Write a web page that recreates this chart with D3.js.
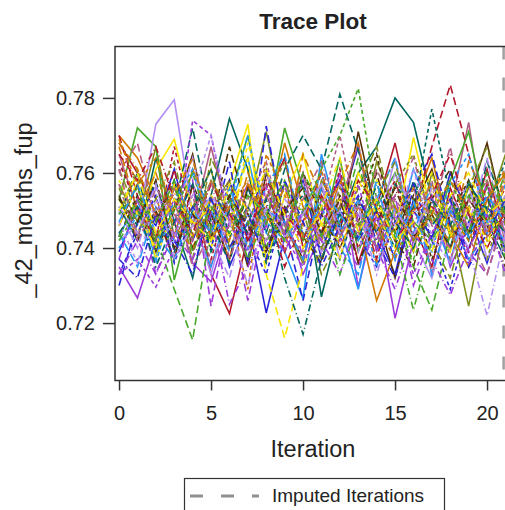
<!DOCTYPE html>
<html>
<head>
<meta charset="utf-8">
<script src="https://cdn.jsdelivr.net/npm/d3@7"></script>
<style>
	body { margin: 0; background: #fff; overflow: hidden; }
	text { font-family: "Liberation Sans", Arial, sans-serif; fill: #222; }
</style>
</head>
<body>
<script>
// iteration numbers on the x axis
var iterations = [0,1,2,3,4,5,6,7,8,9,10,11,12,13,14,15,16,17,18,19,20,21];
var xTicks = [0,5,10,15,20];
var yTicks = [0.72,0.74,0.76,0.78];
var imputedIters = [20.9];

// chains 1-12 (solid)
var chainsA = [
	[.739,.751,.746,.761,.742,.754,.735,.747,.7227,.743,.758,.737,.750,.767,.744,.733,.753,.742,.760,.749,.736,.751],
	[.768,.760,.749,.737,.757,.733,.7225,.743,.753,.764,.740,.749,.758,.736,.751,.768,.746,.735,.756,.744,.761,.742],
	[.751,.742,.764,.747,.732,.754,.7745,.761,.737,.750,.757,.727,.747,.760,.767,.780,.7735,.753,.740,.758,.747,.737],
	[.746,.757,.739,.750,.765,.742,.753,.735,.760,.747,.737,.756,.744,.771,.749,.732,.751,.761,.743,.753,.768,.747],
	[.735,.7267,.742,.753,.736,.731,.747,.757,.740,.750,.733,.744,.760,.7296,.749,.7213,.742,.754,.735,.746,.757,.739],
	[.757,.747,.767,.743,.751,.761,.740,.750,.771,.746,.736,.758,.749,.742,.763,.751,.739,.760,.747,.7245,.750,.765],
	[.743,.753,.737,.758,.747,.735,.751,.764,.744,.739,.7265,.765,.746,.729,.753,.742,.761,.749,.736,.757,.744,.753],
	[.765,.750,.740,.756,.746,.767,.747,.737,.754,.744,.760,.742,.751,.768,.739,.749,.757,.733,.750,.7735,.743,.749],
	[.770,.764,.753,.743,.761,.749,.737,.757,.746,.768,.751,.742,.758,.747,.726,.739,.751,.764,.744,.735,.753,.760],
	[.753,.772,.767,.7315,.750,.742,.753,.770,.746,.772,.756,.743,.764,.739,.751,.760,.747,.742,.758,.771,.749,.740],
	[.742,.746,.773,.7795,.749,.733,.751,.743,.761,.739,.749,.757,.737,.753,.744,.764,.742,.732,.750,.757,.737,.747],
	[.753,.743,.761,.769,.750,.740,.757,.773,.736,.754,.765,.746,.742,.760,.751,.744,.7695,.749,.739,.757,.746,.754]
];
// chains 13-24 (long dash)
var chainsB = [
	[.730,.747,.757,.740,.751,.744,.763,.736,.7725,.746,.726,.749,.758,.742,.750,.737,.756,.765,.746,.740,.751,.744],
	[.770,.754,.743,.761,.739,.750,.758,.742,.751,.735,.747,.760,.744,.753,.737,.757,.749,.767,.7835,.765,.747,.756],
	[.749,.760,.740,.751,.772,.747,.736,.756,.744,.761,.770,.761,.781,.766,.750,.740,.758,.746,.753,.742,.763,.750],
	[.754,.742,.750,.737,.757,.746,.767,.749,.740,.751,.743,.736,.754,.747,.760,.742,.735,.753,.761,.744,.754,.737],
	[.737,.753,.733,.746,.758,.7245,.750,.726,.749,.757,.737,.753,.743,.735,.747,.754,.730,.744,.751,.739,.733,.749],
	[.761,.749,.742,.757,.737,.764,.753,.746,.761,.742,.750,.733,.743,.756,.767,.747,.753,.742,.732,.751,.758,.743],
	[.744,.735,.751,.742,.760,.750,.739,.747,.756,.765,.743,.751,.740,.733,.753,.764,.744,.757,.749,.737,.744,.757],
	[.760,.768,.747,.753,.735,.744,.757,.751,.742,.749,.760,.739,.753,.744,.761,.750,.742,.749,.767,.743,.733,.750],
	[.767,.750,.760,.746,.740,.753,.742,.760,.749,.739,.765,.754,.744,.751,.736,.746,.756,.747,.742,.763,.753,.743],
	[.742,.750,.743,.729,.7155,.746,.754,.737,.749,.758,.742,.753,.746,.764,.740,.751,.735,.7235,.744,.754,.747,.760],
	[.750,.740,.756,.747,.764,.743,.732,.751,.742,.753,.747,.739,.757,.749,.742,.760,.750,.740,.754,.746,.764,.742],
	[.746,.758,.737,.751,.743,.754,.747,.764,.733,.716,.735,.747,.753,.742,.758,.749,.739,.756,.744,.750,.740,.758]
];
// chains 25-36 (short dash)
var chainsC = [
	[.733,.744,.754,.736,.749,.740,.758,.743,.733,.751,.744,.740,.750,.743,.735,.747,.757,.742,.729,.747,.754,.739],
	[.763,.751,.742,.767,.747,.737,.754,.744,.757,.739,.750,.744,.761,.740,.749,.758,.742,.751,.746,.739,.757,.747],
	[.753,.746,.758,.739,.750,.761,.743,.751,.736,.749,.754,.744,.737,.753,.744,.757,.750,.777,.754,.743,.751,.763],
	[.743,.754,.747,.758,.740,.749,.737,.756,.750,.742,.760,.749,.740,.751,.765,.744,.754,.737,.749,.758,.742,.750],
	[.733,.737,.7296,.740,.774,.770,.747,.739,.756,.743,.735,.750,.742,.757,.739,.749,.733,.744,.753,.736,.746,.742],
	[.750,.761,.743,.751,.746,.758,.749,.740,.753,.763,.744,.737,.756,.747,.740,.757,.765,.747,.753,.744,.737,.754],
	[.740,.749,.736,.753,.761,.743,.751,.770,.747,.742,.750,.760,.744,.753,.735,.751,.743,.739,.757,.765,.747,.742],
	[.757,.742,.751,.744,.754,.736,.746,.753,.763,.744,.739,.751,.770,.747,.740,.753,.746,.758,.737,.750,.758,.744],
	[.769,.757,.764,.749,.743,.758,.750,.729,.765,.754,.746,.761,.740,.751,.746,.737,.750,.757,.749,.742,.753,.761],
	[.749,.756,.742,.750,.760,.744,.753,.747,.740,.757,.749,.761,.770,.7825,.753,.744,.737,.750,.758,.747,.756,.737],
	[.747,.736,.753,.743,.754,.770,.749,.740,.751,.746,.757,.742,.750,.739,.754,.746,.761,.743,.736,.753,.746,.754],
	[.758,.749,.740,.757,.746,.751,.743,.768,.750,.742,.753,.747,.737,.758,.749,.740,.750,.760,.743,.751,.742,.750]
];
// chains 37-48 (dash dot)
var chainsD = [
	[.737,.732,.749,.742,.733,.753,.740,.749,.737,.758,.747,.735,.746,.754,.742,.732,.750,.743,.753,.735,.744,.753],
	[.765,.758,.767,.753,.744,.757,.749,.742,.758,.750,.742,.754,.746,.758,.751,.742,.749,.754,.765,.749,.740,.750],
	[.744,.751,.735,.747,.757,.739,.750,.744,.753,.732,.717,.737,.749,.742,.757,.747,.740,.753,.746,.757,.750,.744],
	[.753,.747,.758,.740,.749,.743,.754,.746,.739,.750,.756,.744,.753,.736,.747,.756,.743,.749,.740,.753,.746,.735],
	[.733,.742,.733,.744,.737,.749,.725,.735,.746,.739,.750,.742,.733,.749,.740,.729,.744,.737,.7275,.740,.749,.733],
	[.756,.744,.753,.763,.743,.750,.758,.747,.742,.757,.750,.740,.751,.746,.754,.763,.742,.750,.744,.756,.767,.746],
	[.747,.757,.744,.737,.750,.744,.756,.740,.750,.747,.737,.756,.749,.742,.758,.737,.753,.733,.750,.743,.754,.747],
	[.761,.743,.756,.749,.742,.758,.737,.751,.757,.746,.753,.763,.743,.751,.742,.754,.764,.746,.740,.753,.744,.758],
	[.768,.761,.749,.754,.764,.742,.751,.758,.747,.756,.743,.750,.757,.768,.744,.751,.742,.749,.758,.750,.743,.760],
	[.743,.753,.747,.758,.739,.751,.744,.754,.749,.742,.760,.751,.733,.746,.753,.743,.7235,.742,.751,.744,.760,.749],
	[.751,.744,.757,.737,.746,.754,.747,.730,.751,.743,.749,.757,.744,.751,.733,.750,.743,.756,.749,.740,.722,.744],
	[.750,.760,.744,.753,.747,.742,.757,.750,.761,.749,.740,.751,.764,.744,.753,.742,.747,.739,.754,.760,.749,.753]
];

var palette = ['#2A25D9','#B2182B','#01665E','#543005','#9D3CDB','#7F8E1F',
				'#2597FA','#B26084','#D17800','#47A82A','#B38EF3','#F9E600'];
var dashes = ['none','8,4','4,3','7,3,1,3'];

var width = 505, height = 510;
var plotL = 115, plotT = 46.5, plotB = 380.5, plotR = 560;

var canvas = d3.select('body')
				.append('svg')
				.attr('width',width)
				.attr('height',height);

var x = d3.scaleLinear()
			.domain([-0.22, 24])
			.range([plotL, plotL + 24.22*18.4]);

var y = d3.scaleLinear()
			.domain([0.7047, 0.7937])
			.range([plotB, plotT]);

canvas.append('defs')
	.append('clipPath')
	.attr('id','plotClip')
	.append('rect')
	.attr('x',plotL)
	.attr('y',plotT)
	.attr('width',plotR-plotL)
	.attr('height',plotB-plotT);

var lines = canvas.append('g').attr('clip-path','url(#plotClip)');

// imputed iteration reference line (under the chains)
lines.selectAll('line.ref')
	.data(imputedIters)
	.enter()
	.append('line')
	.attr('class','ref')
	.attr('x1',(d)=>x(d))
	.attr('x2',(d)=>x(d))
	.attr('y1',plotT)
	.attr('y2',plotB)
	.attr('stroke','#a0a0a0')
	.attr('stroke-width',2.5)
	.attr('stroke-dasharray','13,18');

var line = d3.line()
			.x((d,i)=>x(iterations[i]))
			.y((d)=>y(d));

var blocks = [chainsA, chainsB, chainsC, chainsD];

blocks.forEach(function(block,b){
	lines.selectAll('path.b'+b)
		.data(block)
		.enter()
		.append('path')
		.attr('class','b'+b)
		.attr('fill','none')
		.attr('stroke',(d,i)=>palette[i])
		.attr('stroke-width',1.6)
		.attr('stroke-dasharray',dashes[b])
		.attr('d',line);
});

// frame
canvas.append('rect')
	.attr('x',plotL)
	.attr('y',plotT)
	.attr('width',plotR-plotL)
	.attr('height',plotB-plotT)
	.attr('fill','none')
	.attr('stroke','#333')
	.attr('stroke-width',1.5);

var xAxis = canvas.append('g')
				.attr('transform','translate(0,'+plotB+')')
				.call(d3.axisBottom(x).tickValues(xTicks).tickSize(10).tickPadding(15));

var yAxis = canvas.append('g')
				.attr('transform','translate('+plotL+',0)')
				.call(d3.axisLeft(y).tickValues(yTicks).tickFormat(d3.format('.2f')).tickSize(12).tickPadding(8));

[xAxis,yAxis].forEach(function(ax){
	ax.select('.domain').remove();
	ax.selectAll('line').attr('stroke','#333').attr('stroke-width',1.5);
	ax.selectAll('text').style('font-size','20px').attr('fill','#222')
		.style('font-family','"Liberation Sans", Arial, sans-serif');
});

canvas.append('text')
	.attr('x',313)
	.attr('y',29)
	.attr('text-anchor','middle')
	.style('font-size','22.5px')
	.style('font-weight','bold')
	.text('Trace Plot');

canvas.append('text')
	.attr('x',313)
	.attr('y',457)
	.attr('text-anchor','middle')
	.style('font-size','23.5px')
	.text('Iteration');

canvas.append('text')
	.attr('transform','translate(32,210) rotate(-90)')
	.attr('text-anchor','middle')
	.style('font-size','23.5px')
	.text('_42_months_fup');

// legend
var legend = canvas.append('g');
legend.append('rect')
	.attr('x',184.5)
	.attr('y',478.5)
	.attr('width',260)
	.attr('height',50)
	.attr('fill','none')
	.attr('stroke','#333')
	.attr('stroke-width',1.2);
legend.append('line')
	.attr('x1',190)
	.attr('x2',259)
	.attr('y1',496)
	.attr('y2',496)
	.attr('stroke','#909090')
	.attr('stroke-width',3)
	.attr('stroke-dasharray','13,18');
legend.append('text')
	.attr('x',272)
	.attr('y',502)
	.style('font-size','19px')
	.text('Imputed Iterations');
</script>
</body>
</html>
